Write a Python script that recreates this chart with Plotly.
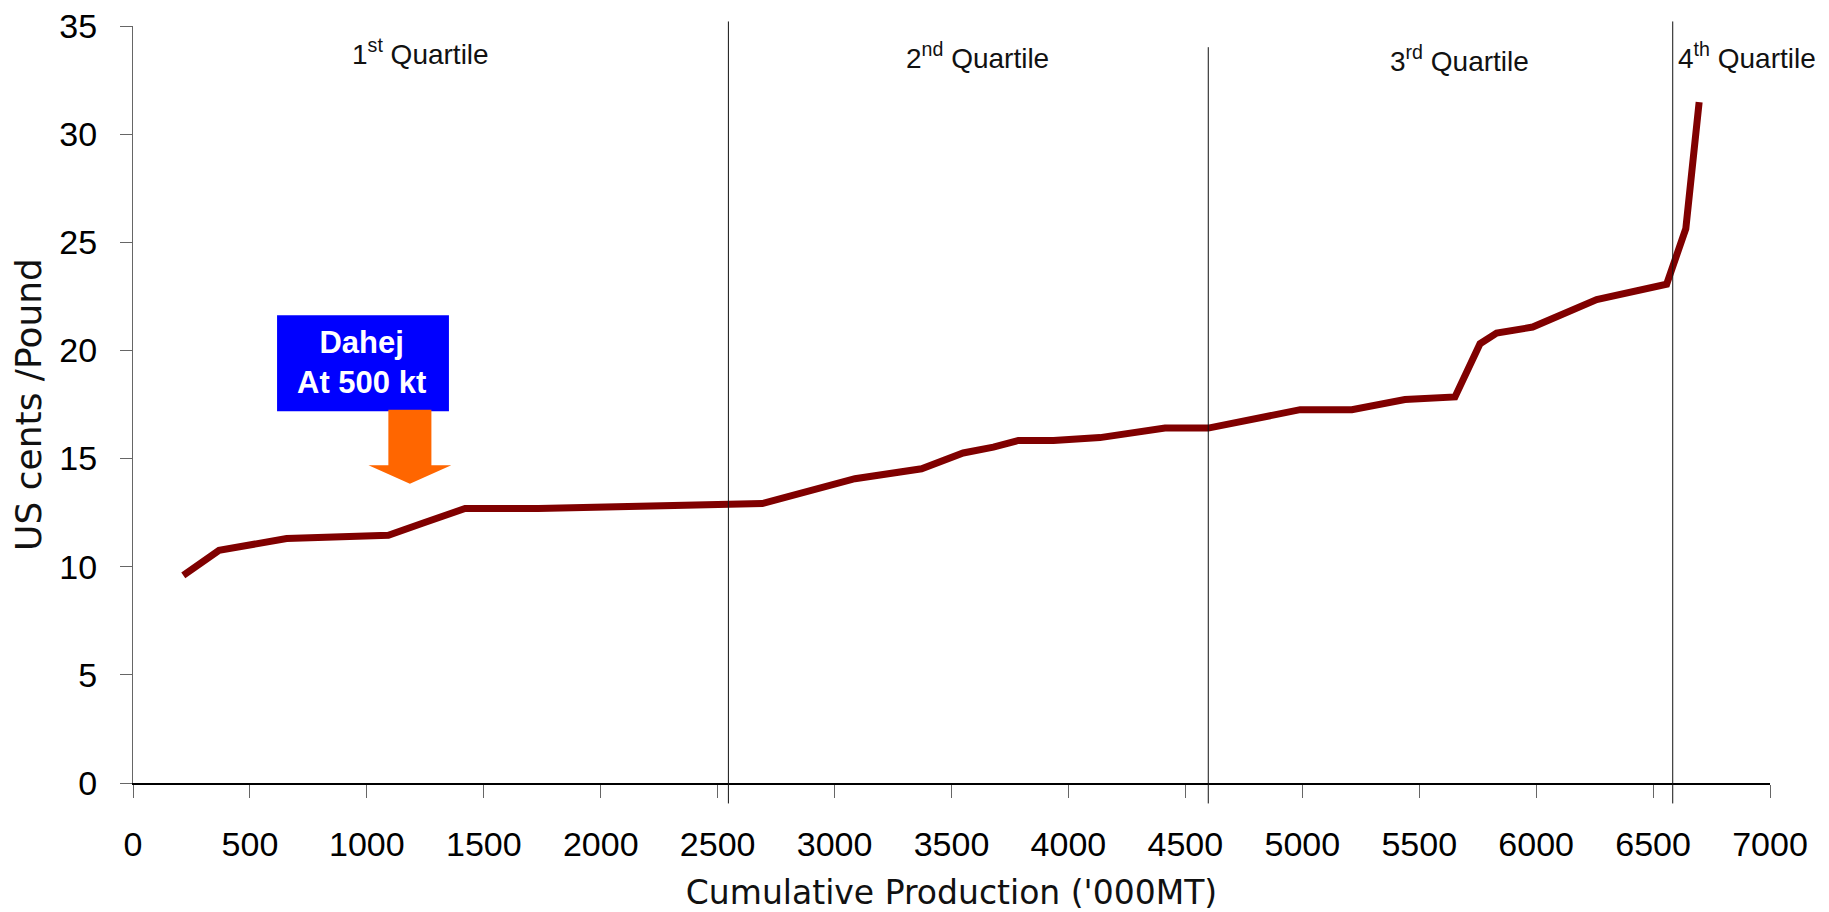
import plotly.graph_objects as go

# Cash-cost curve: cumulative production ('000 MT) vs cost (US cents / pound)
production = [215, 368, 657, 1092, 1241, 1420, 1733, 2211, 2691, 3087, 3372,
              3550, 3679, 3786, 3936, 4135, 4413, 4598, 4805, 4991, 5212,
              5439, 5653, 5760, 5831, 5985, 6259, 6558, 6640, 6697]
cost = [9.6, 10.76, 11.3, 11.45, 12.02, 12.69, 12.69, 12.79, 12.92, 14.07,
        14.53, 15.26, 15.53, 15.84, 15.84, 15.97, 16.41, 16.41, 16.85, 17.26,
        17.26, 17.73, 17.85, 20.31, 20.8, 21.08, 22.35, 23.06, 25.63, 31.48]

# Quartile boundaries on the production axis
quartile_bounds = [2546, 4598, 6584]
quartile_labels = ["1<sup>st</sup> Quartile", "2<sup>nd</sup> Quartile",
                   "3<sup>rd</sup> Quartile", "4<sup>th</sup> Quartile"]
quartile_label_x = [1231, 3613, 5674, 6600]

x_ticks = list(range(0, 7001, 500))
y_ticks = list(range(0, 36, 5))

# Dahej marker position (production, cost)
dahej_x = 1184
dahej_label = "Dahej<br>At 500 kt"

TICK_FONT = dict(family="Liberation Sans, Arial, sans-serif", size=34, color="#000000")
TITLE_FONT = "DejaVu Sans, Verdana, sans-serif"

fig = go.Figure()
fig.add_trace(go.Scatter(
    x=production, y=cost, mode="lines",
    line=dict(color="#800000", width=7),
    hoverinfo="skip", showlegend=False,
))

# Vertical quartile separators
line_tops = [1.006, 0.972, 1.006]
for xb, top in zip(quartile_bounds, line_tops):
    fig.add_shape(type="line", xref="x", yref="paper",
                  x0=xb, x1=xb, y0=-0.027, y1=top,
                  line=dict(color="#111111", width=1), layer="above")

# Quartile captions
label_y = [0.966, 0.961, 0.957, 0.960]
for i, (lab, lx, ly) in enumerate(zip(quartile_labels, quartile_label_x, label_y)):
    fig.add_annotation(x=lx, y=ly, xref="x", yref="paper", text=lab,
                       showarrow=False, xanchor="left" if i == 3 else "center",
                       yanchor="middle",
                       font=dict(family="Liberation Sans, Arial, sans-serif",
                                 size=28, color="#111111"))

# Dahej call-out: blue box with an orange block arrow pointing at the curve
fig.add_shape(type="rect", xref="x", yref="y",
              x0=dahej_x - 568, x1=dahej_x + 167, y0=17.19, y1=21.63,
              fillcolor="#0000FF", line=dict(width=0), layer="above")
fig.add_annotation(x=dahej_x - 209, y=19.45, xref="x", yref="y",
                   text="<b>" + dahej_label + "</b>", showarrow=False,
                   font=dict(family="Liberation Sans, Arial, sans-serif",
                             size=31, color="#FFFFFF"),
                   align="center")
shaft_half, head_half = 92, 177
y_shaft_top, y_head, y_tip = 17.26, 14.69, 13.84
arrow_path = (
    f"M {dahej_x - shaft_half} {y_shaft_top} "
    f"L {dahej_x + shaft_half} {y_shaft_top} "
    f"L {dahej_x + shaft_half} {y_head} "
    f"L {dahej_x + head_half} {y_head} "
    f"L {dahej_x} {y_tip} "
    f"L {dahej_x - head_half} {y_head} "
    f"L {dahej_x - shaft_half} {y_head} Z"
)
fig.add_shape(type="path", xref="x", yref="y", path=arrow_path,
              fillcolor="#FF6600", line=dict(width=0), layer="above")

fig.update_xaxes(
    range=[0, 7000], tickvals=x_ticks, ticktext=[str(v) for v in x_ticks],
    showgrid=False, zeroline=False, automargin=False,
    showline=True, linecolor="#000000", linewidth=1.5,
    ticks="outside", ticklen=13, tickcolor="#666666", tickwidth=1,
    tickfont=TICK_FONT, ticklabelstandoff=17,
    title=dict(text="Cumulative Production ('000MT)",
               font=dict(family=TITLE_FONT, size=33, color="#111111"),
               standoff=21),
)
fig.update_yaxes(
    range=[0, 35], tickvals=y_ticks, ticktext=[str(v) for v in y_ticks],
    showgrid=False, zeroline=False, automargin=False,
    showline=True, linecolor="#666666", linewidth=1,
    ticks="outside", ticklen=12, tickcolor="#666666", tickwidth=1,
    tickfont=TICK_FONT, ticklabelstandoff=16,
    title=dict(text="US cents /Pound",
               font=dict(family=TITLE_FONT, size=36, color="#111111"),
               standoff=6),
)

fig.update_layout(
    width=1829, height=912,
    margin=dict(l=133, r=59, t=26, b=129),
    plot_bgcolor="#FFFFFF", paper_bgcolor="#FFFFFF",
    showlegend=False,
)

fig.write_html("out.html")
